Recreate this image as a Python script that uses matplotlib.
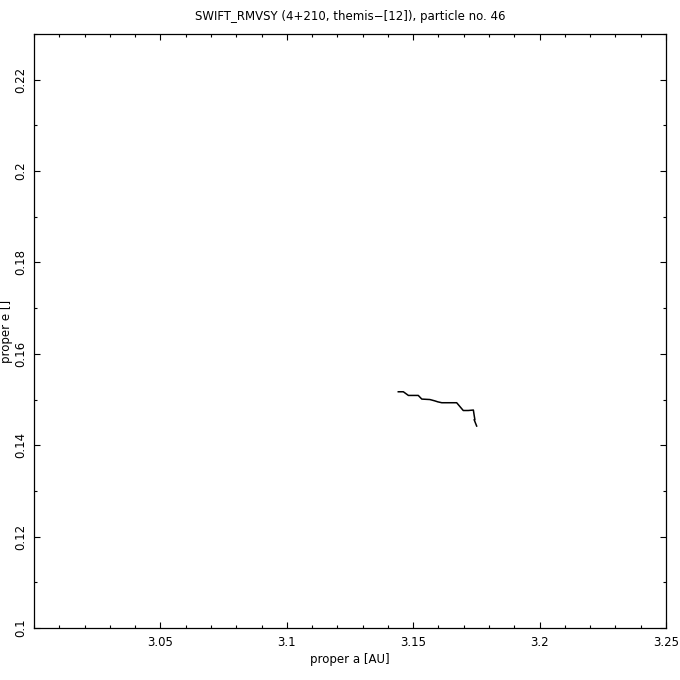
import matplotlib
matplotlib.use("Agg")
import matplotlib.pyplot as plt
from matplotlib.ticker import MultipleLocator

# proper elements of particle 46
proper_a = [3.1441, 3.1461, 3.1481, 3.1520, 3.1534, 3.1566, 3.1586, 3.1597,
            3.1613, 3.1672, 3.1698, 3.1718, 3.1738, 3.1741, 3.1744, 3.1741,
            3.1751]
proper_e = [0.1517, 0.1517, 0.1509, 0.1509, 0.1501, 0.1500, 0.1497, 0.1495,
            0.1493, 0.1493, 0.1476, 0.1476, 0.1477, 0.1466, 0.1456, 0.1456,
            0.1442]

x_ticks = [3.05, 3.1, 3.15, 3.2, 3.25]
x_labels = ["3.05", "3.1", "3.15", "3.2", "3.25"]
y_ticks = [0.1, 0.12, 0.14, 0.16, 0.18, 0.2, 0.22]
y_labels = ["0.1", "0.12", "0.14", "0.16", "0.18", "0.2", "0.22"]

fig = plt.figure(figsize=(6.8, 6.8), dpi=100)
ax = fig.add_axes([34 / 680, 52 / 680, 632 / 680, 594 / 680])

ax.plot(proper_a, proper_e, color="black", linewidth=1.1)

ax.set_xlim(3.0, 3.25)
ax.set_ylim(0.1, 0.23)
ax.set_xticks(x_ticks)
ax.set_xticklabels(x_labels)
ax.set_yticks(y_ticks)
ax.set_yticklabels(y_labels, rotation=90, va="center")
ax.xaxis.set_minor_locator(MultipleLocator(0.01))
ax.yaxis.set_minor_locator(MultipleLocator(0.01))
ax.tick_params(which="both", direction="in", top=True, right=True,
               labelsize=8.5, width=0.8, pad=6)
ax.tick_params(axis="y", which="both", pad=5)
ax.tick_params(which="major", length=4.5)
ax.tick_params(which="minor", length=2.5)
for spine in ax.spines.values():
    spine.set_linewidth(0.9)

ax.set_xlabel("proper a [AU]", fontsize=8.5, labelpad=3)
ax.set_ylabel("proper e []", fontsize=8.5)
ax.yaxis.set_label_coords(-21 / 632, 0.5)
ax.set_title("SWIFT_RMVSY (4+210, themis\u2212[12]), particle no. 46",
             fontsize=8.5, pad=10)

fig.savefig("out.png", dpi=100)
